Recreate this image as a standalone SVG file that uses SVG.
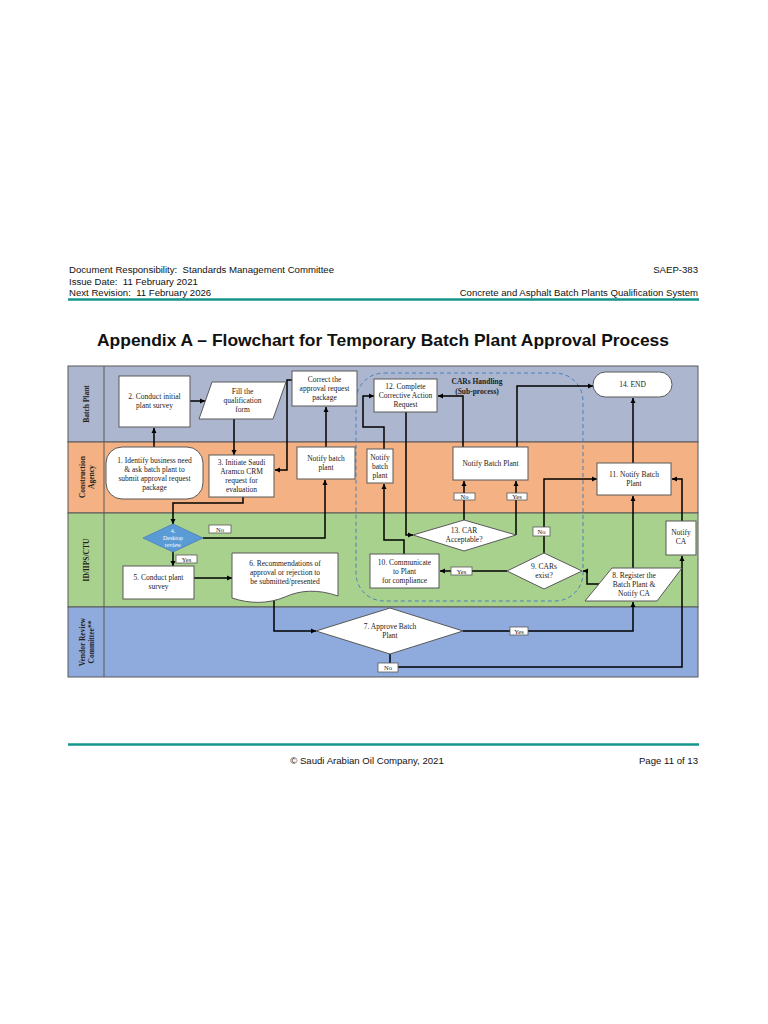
<svg xmlns="http://www.w3.org/2000/svg" width="768" height="1024" viewBox="0 0 768 1024">
<defs>
<marker id="ah" markerWidth="6" markerHeight="6" refX="5" refY="3" orient="auto" markerUnits="userSpaceOnUse">
<path d="M0,0.5 L5,3 L0,5.5 Z" fill="#000"/>
</marker>
<style>
.hd{font-family:"Liberation Sans",Arial,sans-serif;font-size:9.6px;fill:#111;white-space:pre}
.ti{font-family:"Liberation Sans",Arial,sans-serif;font-size:17px;font-weight:bold;fill:#111}
.lane{stroke:#595959;stroke-width:1}
.ll{font-family:"Liberation Serif","Times New Roman",serif;font-size:7.5px;font-weight:bold;fill:#222;text-anchor:middle}
.box{fill:#fff;stroke:#595959;stroke-width:1}
.t{font-family:"Liberation Serif","Times New Roman",serif;font-size:7.5px;fill:#222;text-anchor:middle}
.tw{font-family:"Liberation Serif","Times New Roman",serif;font-size:6px;fill:#fff;text-anchor:middle}
.lb{fill:#fff;stroke:#595959;stroke-width:0.8}
.lt{font-family:"Liberation Serif","Times New Roman",serif;font-size:6.5px;fill:#222;text-anchor:middle}
.c{fill:none;stroke:#000;stroke-width:1.5;marker-end:url(#ah)}
</style>
</defs>
<rect width="768" height="1024" fill="#fff"/>
<g id="header">
<text class="hd" x="69" y="273" xml:space="preserve">Document Responsibility:  Standards Management Committee</text>
<text class="hd" x="69" y="285" xml:space="preserve">Issue Date:  11 February 2021</text>
<text class="hd" x="69" y="296" xml:space="preserve">Next Revision:  11 February 2026</text>
<text class="hd" x="698" y="273" text-anchor="end">SAEP-383</text>
<text class="hd" x="698" y="296" text-anchor="end">Concrete and Asphalt Batch Plants Qualification System</text>
<line x1="68" y1="299.5" x2="699" y2="299.5" stroke="#16968a" stroke-width="2.5"/>
</g>
<text class="ti" x="97" y="346" textLength="572" lengthAdjust="spacingAndGlyphs">Appendix A – Flowchart for Temporary Batch Plant Approval Process</text>
<g id="lanes">
<rect class="lane" x="68" y="366" width="630" height="76" fill="#acb7cf"/>
<rect class="lane" x="68" y="442" width="630" height="71" fill="#f4b183"/>
<rect class="lane" x="68" y="513" width="630" height="94" fill="#a9d18e"/>
<rect class="lane" x="68" y="607" width="630" height="70" fill="#8faadc"/>
<line class="lane" x1="104" y1="366" x2="104" y2="677"/>
<text class="ll" transform="translate(89,404) rotate(-90)">Batch Plant</text>
<text class="ll" transform="translate(85,477) rotate(-90)"><tspan x="0" y="0">Construction</tspan><tspan x="0" y="9">Agency</tspan></text>
<text class="ll" transform="translate(89,560) rotate(-90)">ID/IIPS/CTU</text>
<text class="ll" transform="translate(85,642) rotate(-90)"><tspan x="0" y="0">Vendor Review</tspan><tspan x="0" y="9">Committee**</tspan></text>
</g>
<rect id="subprocess" x="356" y="373" width="227" height="228" rx="28" fill="none" stroke="#4a7ebb" stroke-width="1" stroke-dasharray="4 3"/>
<text class="ll" x="477" y="384" font-size="8">CARs Handling</text>
<text class="ll" x="477" y="394" font-size="8">(Sub-process)</text>
<g id="connectors">
<path class="c" d="M154,447 V428"/>
<path class="c" d="M190,401 H205"/>
<path class="c" d="M234,419 V455"/>
<path class="c" d="M292,380 H287 V470 H275"/>
<path class="c" d="M243,497 V503 H173 V524"/>
<path class="c" d="M203,538 H325 V480"/>
<path class="c" d="M326,447 V407"/>
<path class="c" d="M173,552 V566"/>
<path class="c" d="M194,578 H232"/>
<path class="c" d="M274,597 V631 H316"/>
<path class="c" d="M463,631 H633 V602"/>
<path class="c" d="M390,654 V667 H682 V556"/>
<path class="c" d="M682,521 V479 H672"/>
<path class="c" d="M633,568 V496"/>
<path class="c" d="M633,463 V398"/>
<path class="c" d="M599,584 H587 V571 H583"/>
<path class="c" d="M544,553 V479 H597"/>
<path class="c" d="M507,571 H440"/>
<path class="c" d="M404,554 V540 H384 V484"/>
<path class="c" d="M384,449 V427 H363 V396 H374"/>
<path class="c" d="M406,412 V535 H413"/>
<path class="c" d="M464,520 V481"/>
<path class="c" d="M516,535 V481"/>
<path class="c" d="M463,447 V396 H438"/>
<path class="c" d="M517,447 V386 H593"/>
</g>
<g id="labels">
<rect class="lb" x="209" y="525" width="22" height="8"/><text class="lt" x="220" y="531.5">No</text>
<rect class="lb" x="176" y="555" width="21" height="8"/><text class="lt" x="186.5" y="561.5">Yes</text>
<rect class="lb" x="454" y="493" width="21" height="7"/><text class="lt" x="464.5" y="499">No</text>
<rect class="lb" x="507" y="493" width="20" height="7"/><text class="lt" x="517" y="499">Yes</text>
<rect class="lb" x="533" y="527" width="17" height="9"/><text class="lt" x="541.5" y="534">No</text>
<rect class="lb" x="451" y="567" width="21" height="8"/><text class="lt" x="461.5" y="573.5">Yes</text>
<rect class="lb" x="510" y="627" width="18" height="8"/><text class="lt" x="519" y="633.5">Yes</text>
<rect class="lb" x="378" y="663" width="20" height="9"/><text class="lt" x="388" y="670">No</text>
</g>
<g id="n2"><rect class="box" x="119" y="376" width="71" height="51"/><text class="t" x="154.5" y="399">2. Conduct initial</text><text class="t" x="154.5" y="408">plant survey</text></g>
<g id="nfill"><polygon class="box" points="212,382 286,382 273,419 199,419"/><text class="t" x="242.5" y="394">Fill the</text><text class="t" x="242.5" y="403">qualification</text><text class="t" x="242.5" y="412">form</text></g>
<g id="n1"><rect class="box" x="106" y="447" width="97" height="52" rx="16"/><text class="t" x="154.5" y="463">1. Identify business need</text><text class="t" x="154.5" y="472">&amp; ask batch plant to</text><text class="t" x="154.5" y="481">submit approval request</text><text class="t" x="154.5" y="490">package</text></g>
<g id="n3"><rect class="box" x="209" y="455" width="65" height="42"/><text class="t" x="241.5" y="465">3. Initiate Saudi</text><text class="t" x="241.5" y="474">Aramco CRM</text><text class="t" x="241.5" y="483">request for</text><text class="t" x="241.5" y="492">evaluation</text></g>
<g id="ncorrect"><rect class="box" x="292" y="371" width="65" height="35"/><text class="t" x="324.5" y="382">Correct the</text><text class="t" x="324.5" y="391">approval request</text><text class="t" x="324.5" y="400">package</text></g>
<g id="nnotify1"><rect class="box" x="297" y="447" width="58" height="32"/><text class="t" x="326" y="461">Notify batch</text><text class="t" x="326" y="470">plant</text></g>
<g id="nnotify2"><rect class="box" x="367" y="449" width="26" height="34"/><text class="t" x="380" y="460">Notify</text><text class="t" x="380" y="469">batch</text><text class="t" x="380" y="478">plant</text></g>
<g id="n12"><rect class="box" x="374" y="379" width="63" height="33"/><text class="t" x="405.5" y="389">12. Complete</text><text class="t" x="405.5" y="398">Corrective Action</text><text class="t" x="405.5" y="407">Request</text></g>
<g id="nnotify3"><rect class="box" x="453" y="447" width="75" height="33"/><text class="t" x="490.5" y="466">Notify Batch Plant</text></g>
<g id="n14"><rect class="box" x="593" y="372" width="79" height="25" rx="12.5"/><text class="t" x="632.5" y="387">14. END</text></g>
<g id="n11"><rect class="box" x="597" y="463" width="74" height="32"/><text class="t" x="634" y="477">11. Notify Batch</text><text class="t" x="634" y="486">Plant</text></g>
<g id="n4"><polygon points="173,524 203,538 173,552 143,538" fill="#5b9bd5" stroke="#4a7ebb" stroke-width="0.8"/><text class="tw" x="173" y="533">4.</text><text class="tw" x="173" y="540">Desktop</text><text class="tw" x="173" y="547">review</text></g>
<g id="n5"><rect class="box" x="123" y="566" width="71" height="33"/><text class="t" x="158.5" y="580">5. Conduct plant</text><text class="t" x="158.5" y="589">survey</text></g>
<g id="n6"><path class="box" d="M232,553 H338 V596 C318,589 300,590 285,597 C268,604 250,604 232,598 Z"/><text class="t" x="285" y="566">6. Recommendations of</text><text class="t" x="285" y="575">approval or rejection to</text><text class="t" x="285" y="584">be submitted/presented</text></g>
<g id="n7"><polygon class="box" points="390,608 463,631 390,654 316,631"/><text class="t" x="390" y="629">7. Approve Batch</text><text class="t" x="390" y="638">Plant</text></g>
<g id="n8"><polygon class="box" points="612,568 682,568 657,601 585,601"/><text class="t" x="634" y="578">8. Register the</text><text class="t" x="634" y="587">Batch Plant &amp;</text><text class="t" x="634" y="596">Notify CA</text></g>
<g id="n9"><polygon class="box" points="544,553 582,571 544,589 507,571"/><text class="t" x="544" y="569">9. CARs</text><text class="t" x="544" y="578">exist?</text></g>
<g id="n10"><rect class="box" x="370" y="554" width="69" height="34"/><text class="t" x="404.5" y="565">10. Communicate</text><text class="t" x="404.5" y="574">to Plant</text><text class="t" x="404.5" y="583">for compliance</text></g>
<g id="n13"><polygon class="box" points="464,520 516,535 464,551 413,535"/><text class="t" x="464" y="533">13. CAR</text><text class="t" x="464" y="542">Acceptable?</text></g>
<g id="nnotifyca"><rect class="box" x="666" y="521" width="30" height="34"/><text class="t" x="681" y="535">Notify</text><text class="t" x="681" y="544">CA</text></g>
<g id="footer">
<line x1="68" y1="744.5" x2="699" y2="744.5" stroke="#16968a" stroke-width="2.5"/>
<text class="hd" x="367" y="764" text-anchor="middle">© Saudi Arabian Oil Company, 2021</text>
<text class="hd" x="698" y="764" text-anchor="end">Page 11 of 13</text>
</g>
</svg>
